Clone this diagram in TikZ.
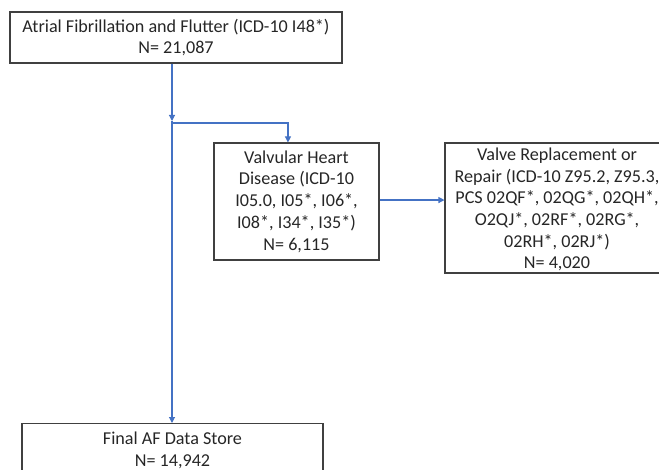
\documentclass[tikz,border=0pt]{standalone}
\usepackage{fontspec}
\setmainfont{Carlito}
\usepackage{xcolor}
\usetikzlibrary{arrows.meta,positioning,calc}
\definecolor{flowblue}{HTML}{4472C4}
\definecolor{boxgray}{HTML}{404040}
\definecolor{txtgray}{HTML}{262626}

\begin{document}
\begin{tikzpicture}[
  x=0.75pt, y=-0.75pt,
  font=\fontsize{13.6}{16.3}\selectfont,
  box/.style={draw=boxgray, line width=0.8pt, align=center, inner sep=1pt, text=txtgray},
  arr/.style={-{Triangle[length=4.5pt, width=4.5pt]}, flowblue, line width=0.8pt},
]
\useasboundingbox (0,0) rectangle (659,470);
\clip (0,0) rectangle (659,470);
% ---- cohort boxes ----
\node[box, minimum width=249pt, minimum height=38.25pt] (af) at (176,37.5)
  {Atrial Fibrillation and Flutter (ICD-10 I48*)\\N= 21,087};
\node[box, minimum width=123.75pt, minimum height=87.75pt] (vhd) at (296.5,201.5)
  {Valvular Heart\\Disease (ICD-10\\I05.0, I05*, I06*,\\I08*, I34*, I35*)\\N= 6,115};
\node[box, minimum width=168pt, minimum height=97.5pt] (valve) at (557,208)
  {};
\node[align=center, text=txtgray, inner sep=0pt] (valvetxt) at (557,209.5)
  {Valve Replacement or\\Repair (ICD-10 Z95.2, Z95.3,\\PCS 02QF*, 02QG*, 02QH*,\\O2QJ*, 02RF*, 02RG*,\\02RH*, 02RJ*)\\N= 4,020};
\node[box, minimum width=225.75pt, minimum height=39.75pt, anchor=north] (final) at (172.5,423)
  {Final AF Data Store\\N= 14,942};

% ---- connectors ----
\coordinate (junc) at (172,121);
\coordinate (split) at (172,123);
\draw[arr] (junc |- af.south) -- (junc);
\draw[arr] (junc) -- (junc |- final.north);
\draw[arr] (split) -| ([xshift=-6.4pt]vhd.north);
\draw[arr] ([yshift=1.1pt]vhd.east) -- ([yshift=1.1pt]vhd.east -| valve.west);
\end{tikzpicture}
\end{document}
